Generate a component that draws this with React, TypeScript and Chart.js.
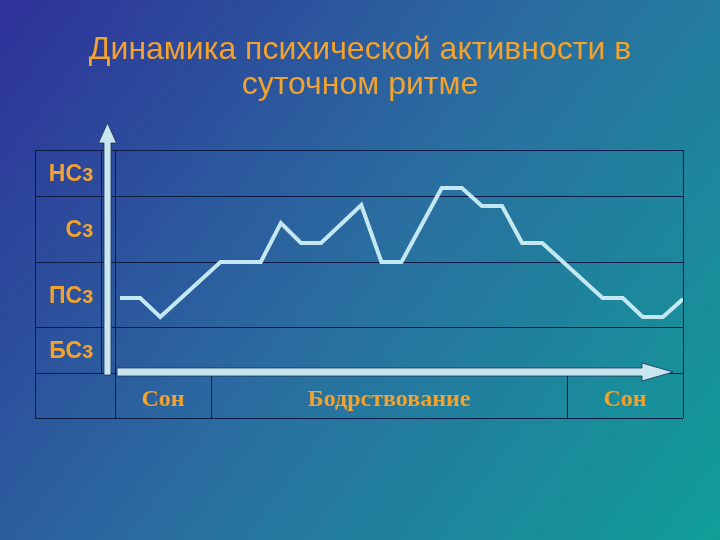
import React, { useEffect, useRef } from "react";
import { Chart, registerables } from "chart.js";

Chart.register(...registerables);

// Title lines
const titleLines = ["Динамика психической активности в", "суточном ритме"];

// Time axis (hour-steps along the day) and activity level of the curve
const hours = [0, 1, 2, 5, 7, 8, 9, 10, 12, 13, 14, 16, 17, 18, 19, 20, 21, 24, 25, 26, 27, 28];
const levels = [7.5, 7.5, 5.6, 11.1, 11.1, 15.0, 13.0, 13.0, 16.8, 11.1, 11.1, 18.5, 18.5, 16.7, 16.7, 13.0, 13.0, 7.5, 7.5, 5.6, 5.6, 7.4];

// Row bands (level categories) from bottom to top
const levelLabels = ["БСз", "ПСз", "Сз", "НСз"];
const levelBounds = [0, 4.6, 11.1, 17.7, 22.3];

// Phase columns along the time axis
const phaseLabels = ["Сон", "Бодрствование", "Сон"];
const phaseBounds = [-0.25, 4.53, 22.24, 28];

const ORANGE = "#f2a22e";
const GRID = "#0c1c46";
const PALE = "#c8e6ee";

const decorPlugin = {
  id: "decor",
  beforeDraw(chart: any) {
    const { ctx, width, height } = chart;
    ctx.save();
    const g = ctx.createLinearGradient(0, 0, width, height);
    g.addColorStop(0, "#2e3199");
    g.addColorStop(0.5, "#2a6ea0");
    g.addColorStop(1, "#109e98");
    ctx.fillStyle = g;
    ctx.fillRect(0, 0, width, height);

    // title
    ctx.fillStyle = ORANGE;
    ctx.font = '32px "Liberation Sans", Arial, sans-serif';
    ctx.textAlign = "center";
    ctx.textBaseline = "alphabetic";
    ctx.fillText(titleLines[0], width / 2, 59);
    ctx.fillText(titleLines[1], width / 2, 94);
    ctx.restore();
  },
  beforeDatasetsDraw(chart: any) {
    const { ctx, chartArea } = chart;
    const x = chart.scales.x;
    const y = chart.scales.y;
    const left = chartArea.left;
    const right = chartArea.right;
    const tableLeft = left - 80;
    const labelColRight = left - 14.5;
    const top = y.getPixelForValue(levelBounds[levelBounds.length - 1]);
    const base = y.getPixelForValue(levelBounds[0]);
    const bottom = base + 45;

    ctx.save();
    ctx.strokeStyle = GRID;
    ctx.lineWidth = 1;
    const hline = (yy: number, x0: number, x1: number) => {
      ctx.beginPath();
      ctx.moveTo(x0, Math.round(yy) + 0.5);
      ctx.lineTo(x1, Math.round(yy) + 0.5);
      ctx.stroke();
    };
    const vline = (xx: number, y0: number, y1: number) => {
      ctx.beginPath();
      ctx.moveTo(Math.round(xx) + 0.5, y0);
      ctx.lineTo(Math.round(xx) + 0.5, y1);
      ctx.stroke();
    };
    levelBounds.forEach((v) => hline(y.getPixelForValue(v), tableLeft, right));
    hline(bottom, tableLeft, right);
    vline(tableLeft, top, bottom);
    vline(labelColRight, top, base);
    vline(left, top, bottom);
    vline(right, top, bottom);
    phaseBounds.slice(1, -1).forEach((v) => vline(x.getPixelForValue(v), base, bottom));

    // row labels
    ctx.fillStyle = ORANGE;
    ctx.font = 'bold 23px "Liberation Sans", Arial, sans-serif';
    ctx.textAlign = "right";
    ctx.textBaseline = "middle";
    levelLabels.forEach((lab, i) => {
      const cy = (y.getPixelForValue(levelBounds[i]) + y.getPixelForValue(levelBounds[i + 1])) / 2;
      ctx.fillText(lab, labelColRight - 7, cy + 2);
    });

    // phase labels
    ctx.font = 'bold 24px "Liberation Serif", "Times New Roman", serif';
    ctx.textAlign = "center";
    ctx.textBaseline = "alphabetic";
    phaseLabels.forEach((lab, i) => {
      const cx = (x.getPixelForValue(phaseBounds[i]) + x.getPixelForValue(phaseBounds[i + 1])) / 2;
      ctx.fillText(lab, cx, base + 33);
    });
    ctx.restore();
  },
  afterDraw(chart: any) {
    const { ctx, chartArea } = chart;
    const y = chart.scales.y;
    const left = chartArea.left;
    const right = chartArea.right;
    const base = y.getPixelForValue(levelBounds[0]);
    ctx.save();
    ctx.fillStyle = PALE;
    ctx.strokeStyle = "#1c3060";
    ctx.lineWidth = 0.8;
    // vertical arrow
    const vx = left - 7.5;
    ctx.beginPath();
    ctx.moveTo(vx - 3.5, base + 2);
    ctx.lineTo(vx - 3.5, 143);
    ctx.lineTo(vx - 9, 143);
    ctx.lineTo(vx, 123);
    ctx.lineTo(vx + 9, 143);
    ctx.lineTo(vx + 3.5, 143);
    ctx.lineTo(vx + 3.5, base + 2);
    ctx.closePath();
    ctx.fill();
    ctx.stroke();
    // horizontal arrow
    const hy = base - 1;
    const tip = right - 10;
    ctx.beginPath();
    ctx.moveTo(left + 2, hy - 4);
    ctx.lineTo(tip - 31, hy - 4);
    ctx.lineTo(tip - 31, hy - 9);
    ctx.lineTo(tip, hy);
    ctx.lineTo(tip - 31, hy + 9);
    ctx.lineTo(tip - 31, hy + 4);
    ctx.lineTo(left + 2, hy + 4);
    ctx.closePath();
    ctx.fill();
    ctx.stroke();
    ctx.restore();
  },
};

export default function App() {
  const ref = useRef<HTMLCanvasElement | null>(null);
  useEffect(() => {
    if (!ref.current) return;
    const chart = new Chart(ref.current, {
      type: "line",
      data: {
        datasets: [
          {
            data: hours.map((h, i) => ({ x: h, y: levels[i] })),
            borderColor: "#c4e8f2",
            borderWidth: 4,
            pointRadius: 0,
            tension: 0,
            fill: false,
          },
        ],
      },
      options: {
        animation: false,
        responsive: false,
        maintainAspectRatio: false,
        layout: { padding: { left: 115, right: 37, top: 150, bottom: 167 } },
        scales: {
          x: { type: "linear", min: phaseBounds[0], max: phaseBounds[phaseBounds.length - 1], display: false },
          y: { type: "linear", min: levelBounds[0], max: levelBounds[levelBounds.length - 1], display: false },
        },
        plugins: { legend: { display: false }, tooltip: { enabled: false }, title: { display: false } },
      },
      plugins: [decorPlugin],
    });
    return () => chart.destroy();
  }, []);
  return (
    <div style={{ position: "fixed", left: 0, top: 0, width: 720, height: 540 }}>
      <canvas ref={ref} width={720} height={540} style={{ width: 720, height: 540, display: "block" }} />
    </div>
  );
}
